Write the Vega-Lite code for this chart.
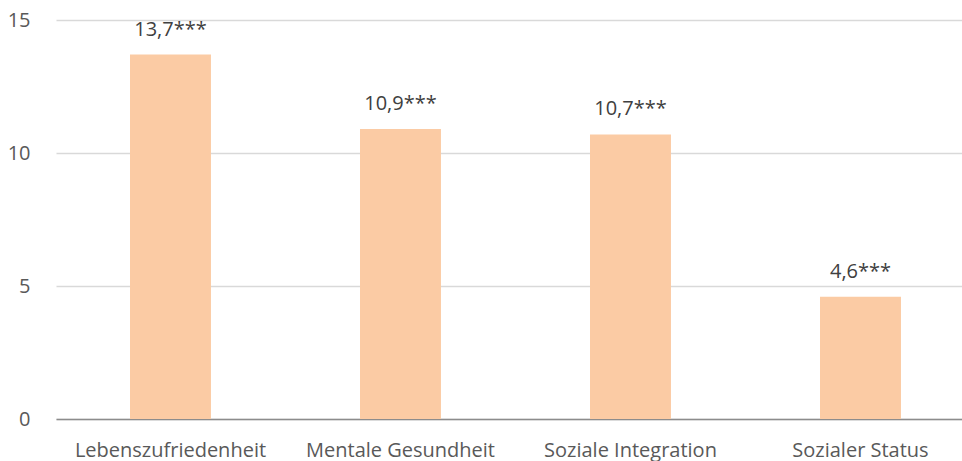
{
  "$schema": "https://vega.github.io/schema/vega-lite/v6.json",
  "width": 907,
  "height": 399,
  "autosize": {"type": "none"},
  "padding": {"left": 56, "top": 20, "right": 0, "bottom": 42},
  "background": "white",
  "config": {"view": {"stroke": null}, "font": "Open Sans"},
  "data": {"values": [
    {"kategorie": "Lebenszufriedenheit", "wert": 13.7, "label": "13,7***"},
    {"kategorie": "Mentale Gesundheit", "wert": 10.9, "label": "10,9***"},
    {"kategorie": "Soziale Integration", "wert": 10.7, "label": "10,7***"},
    {"kategorie": "Sozialer Status", "wert": 4.6, "label": "4,6***"}
  ]},
  "encoding": {
    "x": {"field": "kategorie", "type": "nominal", "sort": null,
      "scale": {"paddingInner": 0.648, "paddingOuter": 0.2957, "align": 0.544},
      "axis": {"title": null, "labelAngle": 0, "labelFontSize": 20, "labelLimit": 0, "labelColor": "#595959", "ticks": false, "domainColor": "#8c8c8c", "domainWidth": 1.5, "labelPadding": 21}},
    "y": {"field": "wert", "type": "quantitative",
      "scale": {"domain": [0, 15]},
      "axis": {"title": null, "values": [0, 5, 10, 15], "domain": false, "ticks": false, "gridColor": "#d9d9d9", "gridWidth": 1.3, "labelFontSize": 20, "labelColor": "#595959", "labelPadding": 26}}
  },
  "layer": [
    {"mark": {"type": "bar", "color": "#fbcba4"}},
    {"mark": {"type": "text", "dy": -19, "baseline": "alphabetic", "fontSize": 20, "color": "#404040"},
      "encoding": {"text": {"field": "label"}}}
  ]
}
